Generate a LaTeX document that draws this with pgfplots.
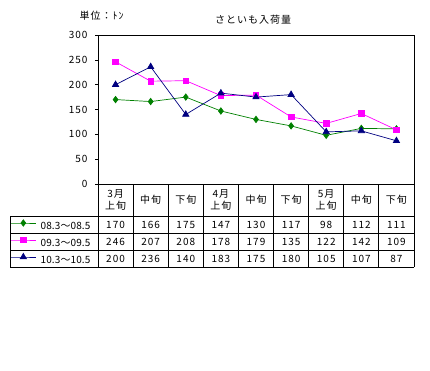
\documentclass[border=0pt]{standalone}
\usepackage{pgfplots}
\pgfplotsset{compat=1.18}
\usepackage{fontspec}
\setmainfont{Noto Sans CJK JP}[LetterSpace=10]
\newfontfamily\plainfont{Noto Sans CJK JP}[LetterSpace=1]
\definecolor{cgreen}{RGB}{0,128,0}
\definecolor{cmag}{RGB}{255,0,255}
\definecolor{cnavy}{RGB}{0,0,128}
\begin{document}
\begin{tikzpicture}[x=1pt,y=1pt,font=\fontsize{10}{11.5}\selectfont]
\path[use as bounding box] (0,0) rectangle (430,370);
\begin{axis}[
  at={(98pt,186pt)}, anchor=south west,
  scale only axis, width=316pt, height=149pt,
  xmin=0, xmax=9, ymin=0, ymax=300,
  xtick=\empty, ytick={0,50,...,300}, ytick pos=left,
  /pgf/number format/assume math mode=true,
  tick align=outside, major tick length=3pt,
  ytick style={black, line width=0.6pt},
  yticklabel style={font=\fontsize{10}{11.5}\selectfont, xshift=-4pt},
  axis line style={black, line width=0.8pt},
  clip=false,
  legend style={at={(axis description cs:-0.2785,-0.2282)}, anchor=north west,
    draw=none, fill=none, inner sep=0pt, outer sep=0pt, row sep=0pt, column sep=4pt,
    nodes={inner sep=0pt, minimum height=17pt, font=\plainfont\fontsize{10}{11.5}\selectfont}},
  legend cell align=left,
  legend image code/.code={\draw[mark repeat=2,mark phase=2,#1] plot coordinates {(2pt,3.5pt) (15pt,3.5pt) (28pt,3.5pt)};},
]
\addplot[cgreen, line width=0.7pt, mark=diamond*, mark size=3.2pt, mark options={solid, fill=cgreen}] coordinates {
 (0.5,170) (1.5,166) (2.5,175) (3.5,147) (4.5,130) (5.5,117) (6.5,98) (7.5,112) (8.5,111)};
\addlegendentry{08.3～08.5}
\addplot[cmag, line width=0.7pt, mark=square*, mark size=2.8pt, mark options={solid, fill=cmag}] coordinates {
 (0.5,246) (1.5,207) (2.5,208) (3.5,178) (4.5,179) (5.5,135) (6.5,122) (7.5,142) (8.5,109)};
\addlegendentry{09.3～09.5}
\addplot[cnavy, line width=0.7pt, mark=triangle*, mark size=3.6pt, mark options={solid, fill=cnavy}] coordinates {
 (0.5,200) (1.5,236) (2.5,140) (3.5,183) (4.5,175) (5.5,180) (6.5,105) (7.5,107) (8.5,87)};
\addlegendentry{10.3～10.5}
\end{axis}
% frame
\draw[line width=0.8pt] (98,186) rectangle (414,335);
% title and unit
\node at (253,350) {さといも入荷量};
\node[anchor=west] at (76,354) {単位：ﾄﾝ};
% table grid
\begin{scope}[line width=0.8pt, black]
\draw (10,154) -- (414,154);
\draw (10,137) -- (414,137);
\draw (10,120) -- (414,120);
\draw (10,103) -- (414,103);
\draw (10,154) -- (10,103);
\foreach \k in {0,...,9} \draw ({98+35.111*\k},186) -- ({98+35.111*\k},103);
\end{scope}
% header labels
\foreach \a/\b [count=\i from 0] in {3月/上旬,{}/中旬,{}/下旬,4月/上旬,{}/中旬,{}/下旬,5月/上旬,{}/中旬,{}/下旬}{
  \ifx\a\empty
    \node at ({98+35.111*(\i+0.5)},170) {\b};
  \else
    \node[align=center] at ({98+35.111*(\i+0.5)},170) {\a\\\b};
  \fi
}
% data cells
\foreach \v [count=\i from 0] in {170,166,175,147,130,117,98,112,111}
  \node at ({98+35.111*(\i+0.5)},145.5) {\v};
\foreach \v [count=\i from 0] in {246,207,208,178,179,135,122,142,109}
  \node at ({98+35.111*(\i+0.5)},128.5) {\v};
\foreach \v [count=\i from 0] in {200,236,140,183,175,180,105,107,87}
  \node at ({98+35.111*(\i+0.5)},111.5) {\v};
\end{tikzpicture}
\end{document}
